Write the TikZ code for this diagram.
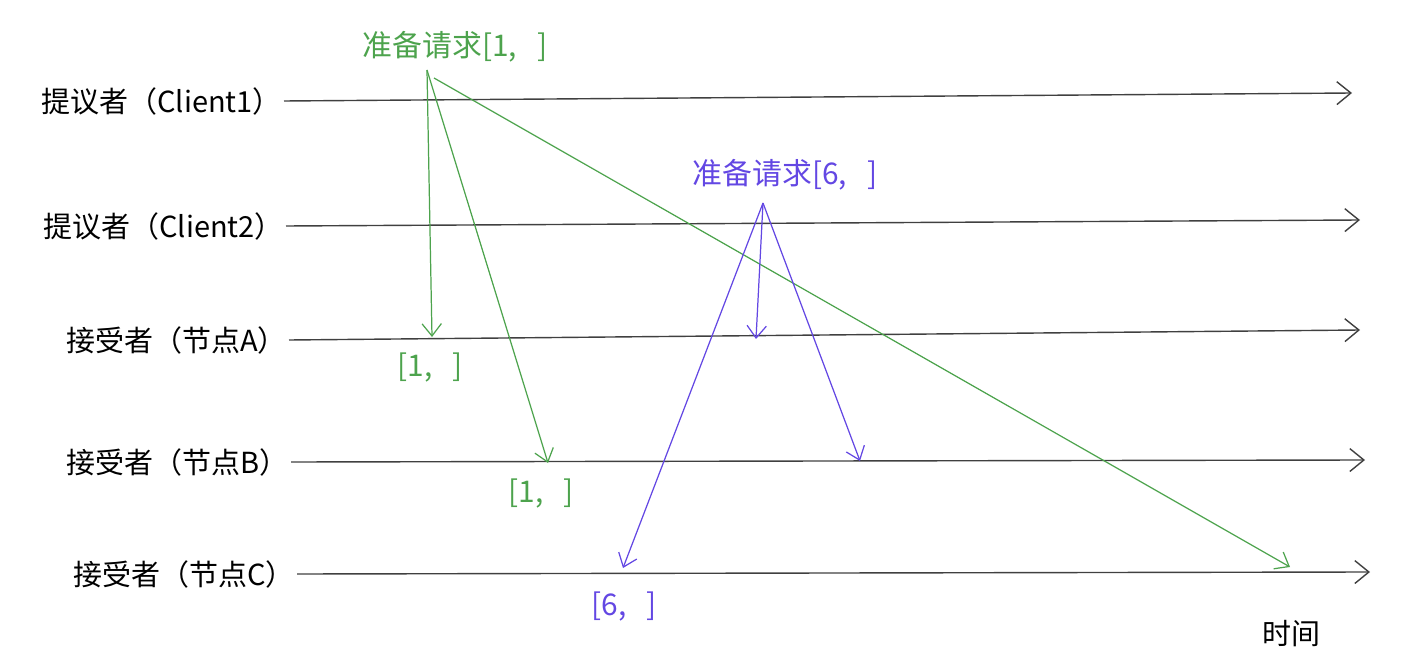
\documentclass[tikz,border=0pt]{standalone}
\usepackage{fontspec}
\setmainfont{Noto Sans CJK SC}
\usetikzlibrary{arrows.meta}
\definecolor{reqgreen}{HTML}{4DA34D}
\definecolor{reqblue}{HTML}{6347E3}

\begin{document}
\begin{tikzpicture}[x=0.02cm,y=-0.02cm,
    role/.style={anchor=east,inner sep=1pt,font=\fontsize{16.5}{19}\selectfont},
    reqlabel/.style={font=\fontsize{17}{20}\selectfont},
    timeline/.style={draw=black!75,line width=0.8pt,
      -{Straight Barb[length=8pt,width=13pt]}},
    greq/.style={reqgreen,line width=0.7pt,
      -{Straight Barb[length=7pt,width=11pt]}},
    breq/.style={reqblue,line width=0.7pt,
      -{Straight Barb[length=7pt,width=11pt]}}]
\useasboundingbox (0,0) rectangle (1414,672);
% roles on the left
\node[role] (c1) at (284,101) {提议者（Client1）};
\node[role] (c2) at (286,226) {提议者（Client2）};
\node[role] (na) at (289,340) {接受者（节点A）};
\node[role] (nb) at (291,462) {接受者（节点B）};
\node[role] (nc) at (297,574) {接受者（节点C）};
% time axes
\coordinate (c1end) at (1352,93);
\coordinate (c2end) at (1360,220);
\coordinate (naend) at (1360,330);
\coordinate (nbend) at (1365,460);
\coordinate (ncend) at (1370,572);
\draw[timeline] (c1.east) -- (c1end);
\draw[timeline] (c2.east) -- (c2end);
\draw[timeline] (na.east) -- (naend);
\draw[timeline] (nb.east) -- (nbend);
\draw[timeline] (nc.east) -- (ncend);
\node[role,anchor=center] (time) at (1291,634) {时间};
%
% prepare request [1, ]
\node[reqlabel,text=reqgreen] (g) at (455,47) {准备请求{[}1,\ \ \ {]}};
\coordinate (g0) at (427,70);
\coordinate (g1) at (434,78);
\coordinate (ga) at (432,337);
\coordinate (gb) at (548,463);
\coordinate (gc) at (1290,567);
\draw[greq] (g0) -- (ga);
\draw[greq] (g0) -- (gb);
\draw[greq] (g1) -- (gc);
\node[reqlabel,text=reqgreen] (gla) at (430,368) {{[}1,\ \ \ {]}};
\node[reqlabel,text=reqgreen] (glb) at (541,494) {{[}1,\ \ \ {]}};
%
% prepare request [6, ]
\node[reqlabel,text=reqblue] (b) at (785,175) {准备请求{[}6,\ \ \ {]}};
\coordinate (b0) at (763,203);
\coordinate (ba) at (756,339);
\coordinate (bb) at (860,461);
\coordinate (bc) at (623,568);
\draw[breq] (b0) -- (ba);
\draw[breq] (b0) -- (bb);
\draw[breq] (b0) -- (bc);
\node[reqlabel,text=reqblue] (blc) at (624,607) {{[}6,\ \ \ {]}};
\end{tikzpicture}
\end{document}
